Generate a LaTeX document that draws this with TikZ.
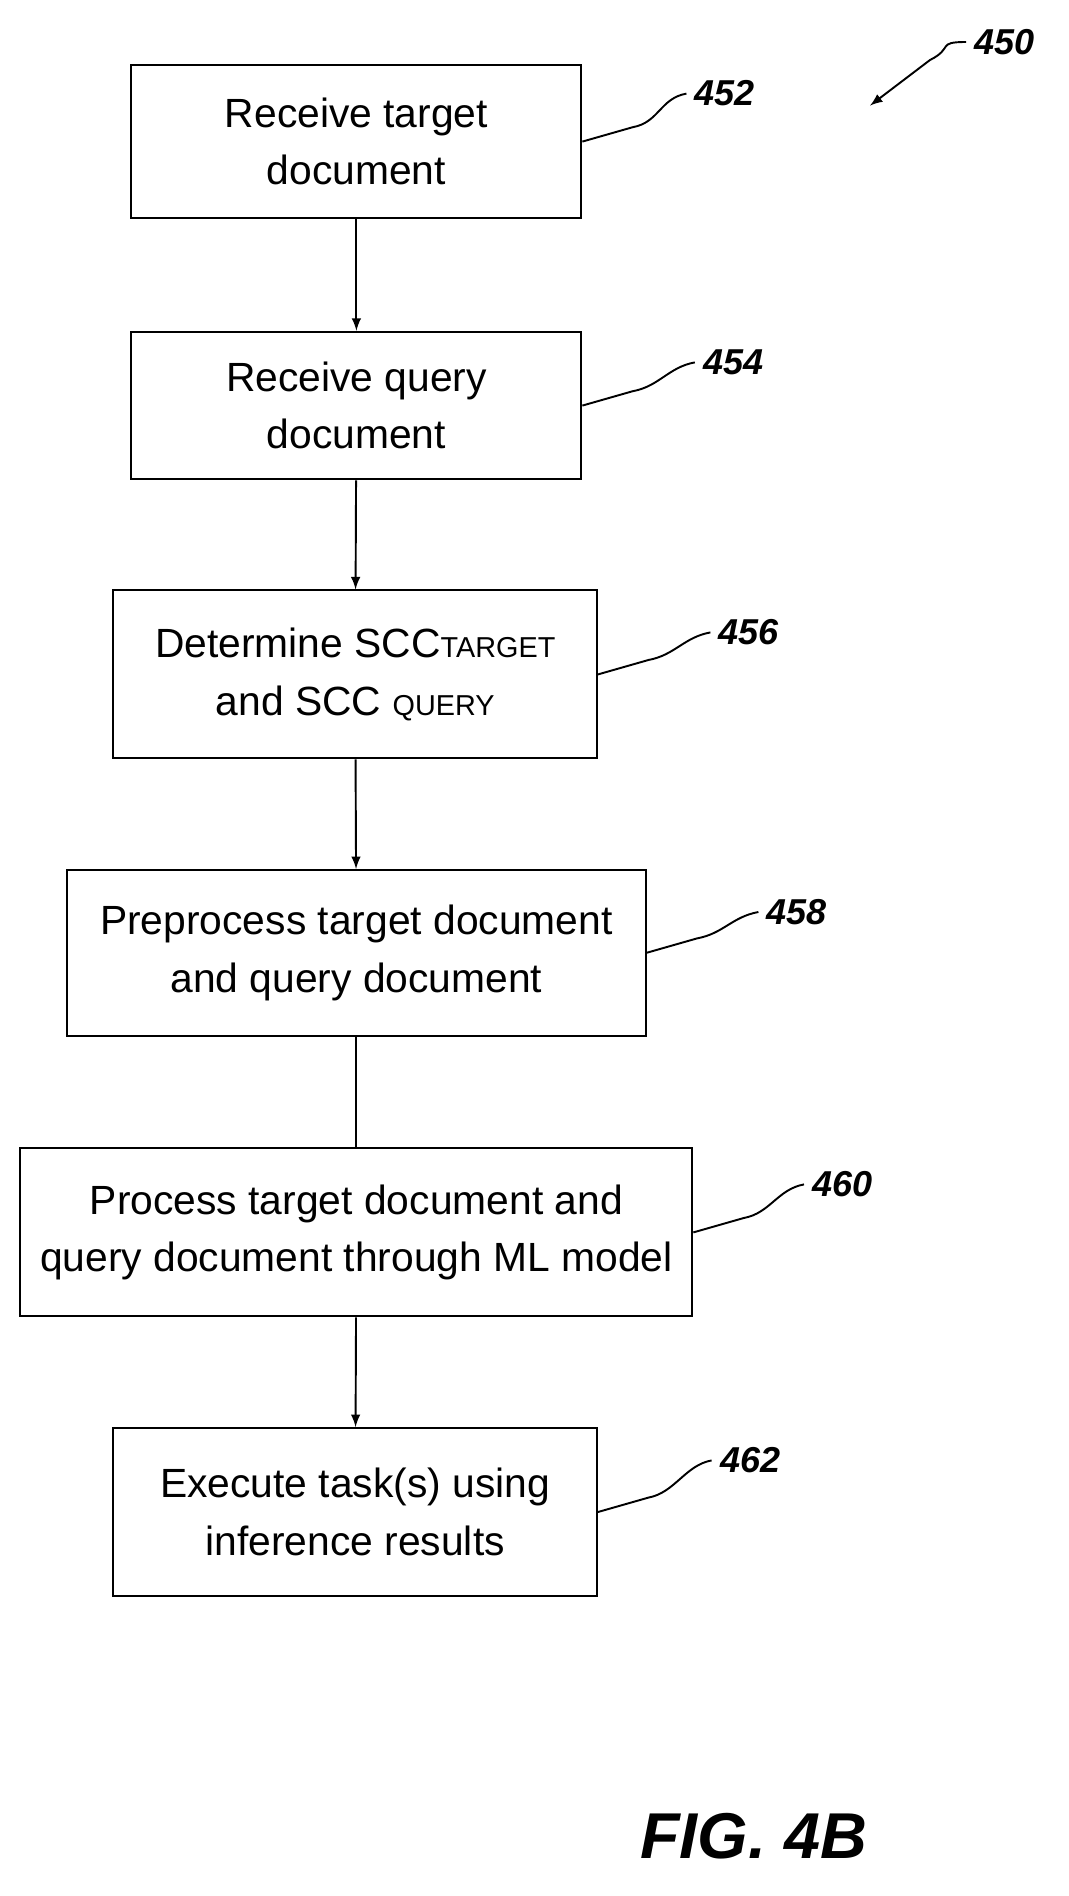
\documentclass[tikz,border=0pt]{standalone}
\usepackage{fontspec}
\setmainfont{Liberation Sans}
\usetikzlibrary{positioning}
\begin{document}
\begin{tikzpicture}[x=0.5pt,y=-0.5pt,
	box/.style={draw,line width=0.8pt,align=center,inner sep=0pt,
		font=\fontsize{17}{24}\selectfont},
	num/.style={font=\fontsize{15}{15}\selectfont\bfseries\itshape,anchor=west},
	flow/.style={draw,line width=0.8pt,-latex}]
	\useasboundingbox (0,0) rectangle (890,1580);

	\node[box,minimum width=187.5pt,minimum height=63.5pt] (b452) at (297,118) {Receive target\\document};
	\node[box,minimum width=187.5pt,minimum height=61.5pt] (b454) at (297,338) {Receive query\\document};
	\node[box,minimum width=201.5pt,minimum height=70pt] (b456) at (296,562)
		{Determine SCC{\fontsize{12}{12}\selectfont TARGET}\\and SCC {\fontsize{12}{12}\selectfont QUERY}};
	\node[box,minimum width=241pt,minimum height=69pt] (b458) at (297,794) {Preprocess target document\\and query document};
	\node[box,minimum width=280pt,minimum height=70pt] (b460) at (297,1027) {Process target document and\\query document through ML model};
	\node[box,minimum width=201.5pt,minimum height=70pt] (b462) at (296,1260) {Execute task(s) using\\inference results};

	\draw[flow] (b452) -- (b454);
	\draw[flow] (b454) -- (b456);
	\draw[flow] (b456) -- (b458);
	\draw[line width=0.8pt] (b458) -- (b460);
	\draw[flow] (b460) -- (b462);

	% reference numerals
	\foreach \n/\x/\y in {452/572/78, 454/579/302, 456/592/527, 458/632/760, 460/670/987, 462/593/1217}{
		\node[num] (l\n) at (\x,\y) {\n};
		\draw[line width=0.8pt] (b\n.east) -- ++(42,-12)
			.. controls +(22,-4) and +(-22,4) .. (l\n.west);
	}
	\node[num] (l450) at (805,35) {450};
	\coordinate (a450) at (725,88);
	\draw[line width=0.8pt,-latex] (l450.west) .. controls +(-25,0) and +(20,-10) .. (775,50)
		-- (a450);

	\node[font=\fontsize{27}{27}\selectfont\bfseries\itshape] (fig) at (628,1530) {FIG. 4B};
\end{tikzpicture}
\end{document}
